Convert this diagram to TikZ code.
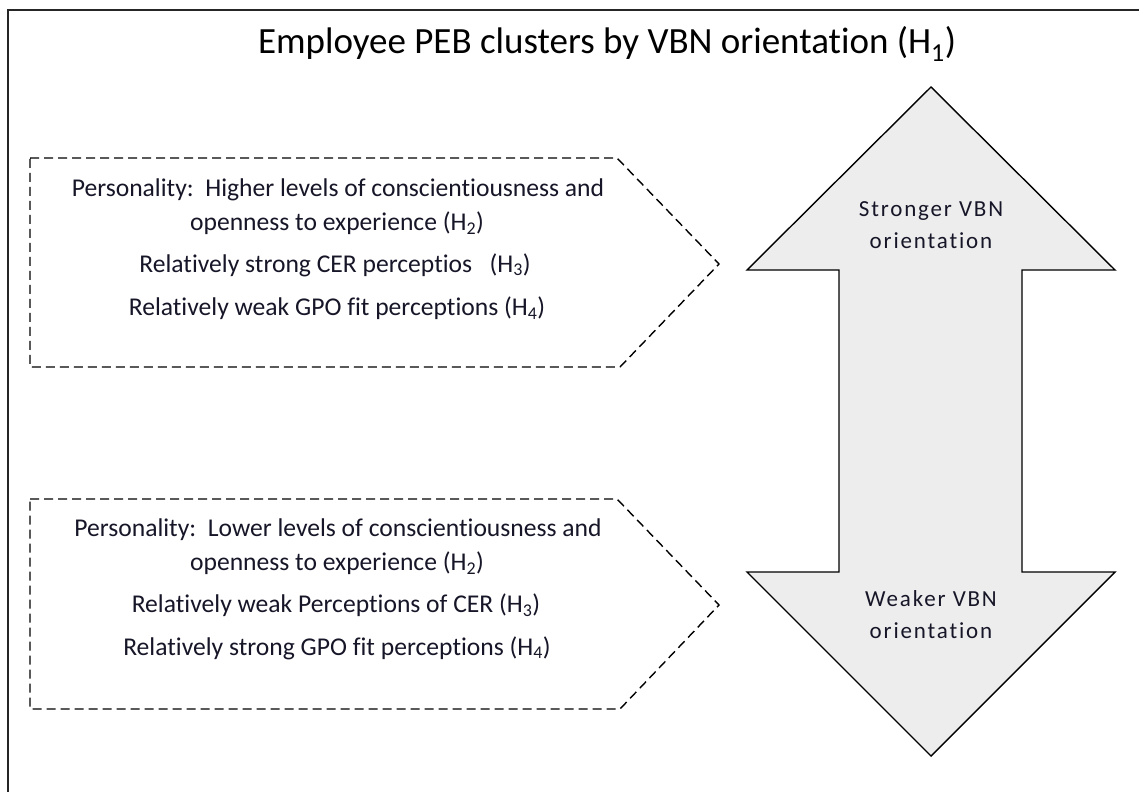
\documentclass[tikz,border=0pt]{standalone}
\usepackage{fontspec}
\setmainfont{Carlito}[Ligatures=NoCommon]
\newfontfamily\arrowfont{Carlito}[LetterSpace=8,Ligatures=NoCommon]
\definecolor{inktext}{RGB}{22,22,40}
\definecolor{arrowfill}{RGB}{237,237,237}
\begin{document}
\begin{tikzpicture}[x=1bp,y=-1bp,
  frameline/.style={line width=2.4bp,draw=black!85},
  clusterbox/.style={draw=black,line width=1.4bp,dash pattern=on 9bp off 5bp},
  bodytext/.style={text=inktext,font=\fontsize{25.6bp}{30bp}\selectfont,anchor=center,inner sep=0pt},
  arrowtext/.style={text=inktext,font=\arrowfont\fontsize{23bp}{32bp}\selectfont,align=center,anchor=center,inner sep=0pt},
  titletext/.style={text=black,font=\fontsize{37bp}{44bp}\selectfont,anchor=center,inner sep=0pt}]
\useasboundingbox (0,0) rectangle (1139,792);
\fill[white] (0,0) rectangle (1139,792);

% outer frame (only its top and left edges fall on the page)
\begin{scope}
  \clip (0,0) rectangle (1139,792);
  \draw[frameline] (8,10) rectangle (1160,810);
\end{scope}

% title
\node[titletext] (title) at (607,44) {Employee PEB clusters by VBN orientation (H\textsubscript{1})};

% two-headed arrow for VBN orientation
\filldraw[fill=arrowfill,draw=black,line width=1.4bp,line join=miter]
  (931,87) -- (1115,270) -- (1022,270) -- (1022,572) -- (1115,572)
  -- (931,756) -- (747,572) -- (839,572) -- (839,270) -- (747,270) -- cycle;
\node[arrowtext] (strong) at (931,225) {Stronger VBN\\orientation};
\node[arrowtext] (weak) at (931,615) {Weaker VBN\\orientation};

% upper cluster
\draw[clusterbox] (30,158) -- (617,158) -- (719,264) -- (620,367) -- (30,367) -- cycle;
\node[bodytext] (u1) at (338,190) {Personality:\ \ Higher levels of conscientiousness and};
\node[bodytext] (u2) at (337,223) {openness to experience (H\textsubscript{2})};
\node[bodytext] (u3) at (335,265) {Relatively strong CER perceptios\ \ \ (H\textsubscript{3})};
\node[bodytext] (u4) at (337,308) {Relatively weak GPO fit perceptions (H\textsubscript{4})};

% lower cluster
\draw[clusterbox] (30,499) -- (617,499) -- (719,605) -- (620,709) -- (30,709) -- cycle;
\node[bodytext] (l1) at (338,530) {Personality:\ \ Lower levels of conscientiousness and};
\node[bodytext] (l2) at (337,563) {openness to experience (H\textsubscript{2})};
\node[bodytext] (l3) at (336,605) {Relatively weak Perceptions of CER (H\textsubscript{3})};
\node[bodytext] (l4) at (337,648) {Relatively strong GPO fit perceptions (H\textsubscript{4})};
\end{tikzpicture}
\end{document}
